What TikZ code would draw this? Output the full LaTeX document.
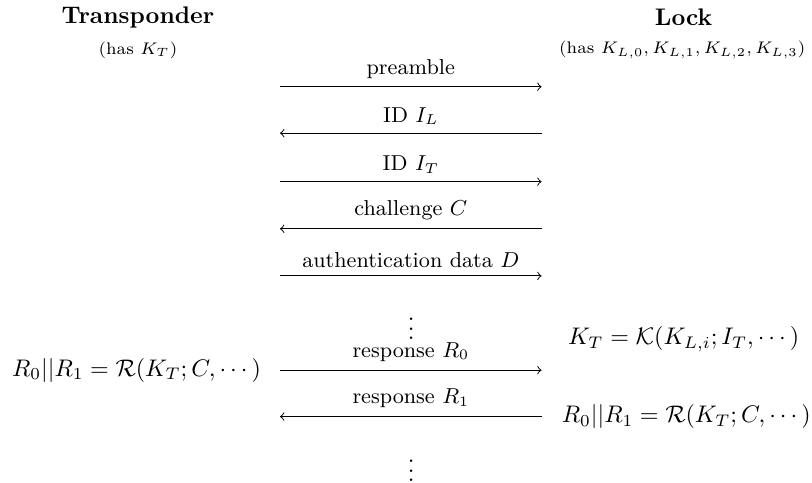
\documentclass[tikz,border=0pt]{standalone}
\usepackage{amsmath}
\usepackage{tikz}

\begin{document}
\begin{tikzpicture}[
        msg/.style = {font=\small, above},
        note/.style = {font=\scriptsize},
        gap/.style = {inner sep=0pt}
    ]
                    \useasboundingbox (0, 0) rectangle (11.89, -7.07);

                    % parties
                    \node (tp) at (2.02, -0.25) {\textbf{Transponder}};
                    \node[note] (tpkey) at (2.02, -0.73) {(has $K_T$)};
                    \node (lk) at (10.01, -0.25) {\textbf{Lock}};
                    \node[note] (lkkey) at (9.99, -0.73) {(has $K_{L,0}, K_{L,1}, K_{L,2}, K_{L,3}$)};

                    % ends of the messages
                    \coordinate (t0) at (4.10, -1.27);
                    \coordinate (l0) at (7.93, -1.27);
                    \coordinate (t1) at (4.10, -1.95);
                    \coordinate (l1) at (7.93, -1.95);
                    \coordinate (t2) at (4.10, -2.66);
                    \coordinate (l2) at (7.93, -2.66);
                    \coordinate (t3) at (4.10, -3.35);
                    \coordinate (l3) at (7.93, -3.35);
                    \coordinate (t4) at (4.10, -4.04);
                    \coordinate (l4) at (7.93, -4.04);
                    \coordinate (t5) at (4.10, -5.42);
                    \coordinate (l5) at (7.93, -5.42);
                    \coordinate (t6) at (4.10, -6.10);
                    \coordinate (l6) at (7.93, -6.10);

                    \draw
                        (t0) edge[->] node[msg]{preamble} (l0)
                        (l1) edge[->] node[msg]{ID $I_L$} (t1)
                        (t2) edge[->] node[msg]{ID $I_T$} (l2)
                        (l3) edge[->] node[msg]{challenge $C$} (t3)
                        (t4) edge[->] node[msg]{authentication data $D$} (l4)
                        (t5) edge[->] node[msg]{response $R_0$} (l5)
                        (l6) edge[->] node[msg]{response $R_1$} (t6)
                    ;

                    \node[gap] (dots0) at (6.02, -4.71) {$\vdots$};
                    \node[gap] (dots1) at (6.02, -6.79) {$\vdots$};

                    % computations
                    \node (keq) at (10.01, -4.97) {$K_T = \mathcal{K}(K_{L,i}; I_T, \cdots)$};
                    \node (req0) at (2.00, -5.42) {$R_0 || R_1 = \mathcal{R}(K_T; C, \cdots)$};
                    \node (req1) at (10.05, -6.10) {$R_0 || R_1 = \mathcal{R}(K_T; C, \cdots)$};
                \end{tikzpicture}
\end{document}
